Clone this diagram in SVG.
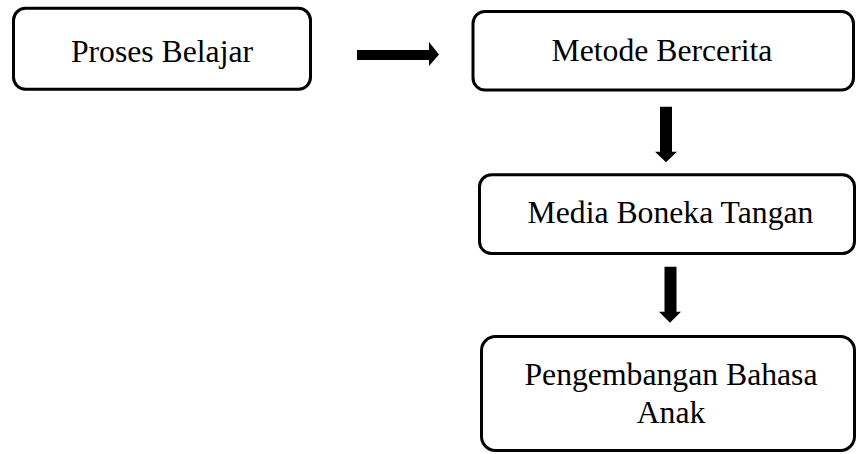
<svg xmlns="http://www.w3.org/2000/svg" width="857" height="454" viewBox="0 0 857 454">
<style>
.box{fill:#fff;stroke:#000;stroke-width:3}
.t{font-family:"Liberation Serif","Times New Roman",serif;font-size:31.7px;fill:#000;text-anchor:middle}
.arr{fill:#000;stroke:none}
</style>
<rect width="857" height="454" fill="#fff"/>
<g id="n1">
<rect class="box" x="13.5" y="8.3" width="297" height="81" rx="12"/>
<text class="t" x="162" y="62">Proses Belajar</text>
</g>
<g id="n2">
<rect class="box" x="473" y="11.5" width="380.5" height="78.5" rx="12"/>
<text class="t" x="662" y="61">Metode Bercerita</text>
</g>
<g id="n3">
<rect class="box" x="479.5" y="174.8" width="375" height="78.7" rx="12"/>
<text class="t" x="670.5" y="223">Media Boneka Tangan</text>
</g>
<g id="n4">
<rect class="box" x="481.5" y="336.5" width="373" height="114" rx="14"/>
<text class="t" x="671" y="385">Pengembangan Bahasa</text>
<text class="t" x="671" y="423">Anak</text>
</g>
<g id="connectors">
<polygon class="arr" points="357,50 429,50 429,42 439,54.5 429,66 429,60 357,60"/>
<polygon class="arr" points="660,106.7 672,106.7 672,151.7 677,151.7 666,162.3 655,151.7 660,151.7"/>
<polygon class="arr" points="664.5,266.7 676.5,266.7 676.5,311.7 681,311.7 670,322.7 659,311.7 664.5,311.7"/>
</g>
</svg>
